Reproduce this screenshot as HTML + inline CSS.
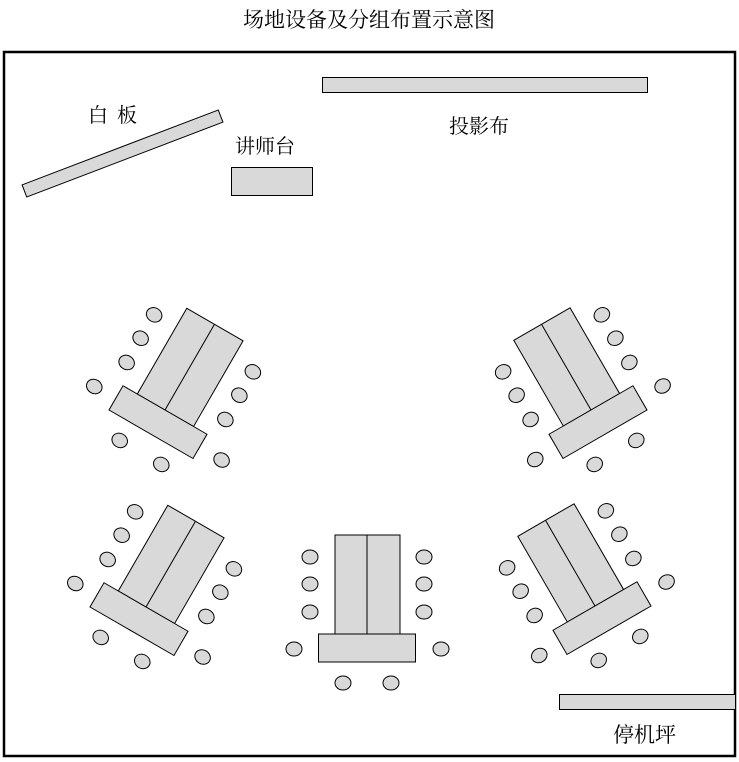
<!DOCTYPE html>
<html><head><meta charset="utf-8"><style>
html,body{margin:0;padding:0;background:#fff;}
svg{display:block;}
text{font-family:"Liberation Serif","Noto Serif CJK SC",serif;fill:#000;}
</style></head><body>
<svg width="739" height="762" viewBox="0 0 739 762" xmlns="http://www.w3.org/2000/svg">
<defs>
<g id="grp" stroke="#000" stroke-width="1" fill="#d9d9d9">
  <rect x="-32" y="-99" width="65" height="99"/>
  <line x1="0" y1="-99" x2="0" y2="0"/>
  <rect x="-48.5" y="0" width="97" height="28"/>
  <ellipse cx="-57" cy="-77" rx="8" ry="7"/>
  <ellipse cx="-57" cy="-50" rx="8" ry="7"/>
  <ellipse cx="-57" cy="-22" rx="8" ry="7"/>
  <ellipse cx="57" cy="-77" rx="8" ry="7"/>
  <ellipse cx="57" cy="-50" rx="8" ry="7"/>
  <ellipse cx="57" cy="-22" rx="8" ry="7"/>
  <ellipse cx="-73" cy="15" rx="8" ry="7"/>
  <ellipse cx="74" cy="15" rx="8" ry="7"/>
  <ellipse cx="-24" cy="49" rx="8" ry="7"/>
  <ellipse cx="24" cy="49" rx="8" ry="7"/>
</g>
</defs>
<text x="369" y="27" font-size="21" text-anchor="middle">场地设备及分组布置示意图</text>
<rect x="4" y="52" width="731" height="704" fill="none" stroke="#000" stroke-width="2.5"/>
<rect x="322.5" y="77.5" width="325" height="15" fill="#d9d9d9" stroke="#000"/>
<rect x="-105" y="-6.5" width="210" height="13" fill="#d9d9d9" stroke="#000" transform="translate(122.5,153.5) rotate(-20.9)"/>
<rect x="231.5" y="167.5" width="81" height="28" fill="#d9d9d9" stroke="#000"/>
<rect x="559.5" y="694.5" width="176" height="15" fill="#d9d9d9" stroke="#000"/>
<text x="88" y="122" font-size="20">白</text>
<text x="117" y="122" font-size="20">板</text>
<text x="235" y="153" font-size="20">讲师台</text>
<text x="449" y="133" font-size="20">投影布</text>
<text x="613" y="742" font-size="21">停机坪</text>
<use href="#grp" transform="translate(165,410) rotate(30)"/>
<use href="#grp" transform="translate(146,607) rotate(30)"/>
<use href="#grp" transform="translate(591,410) rotate(-30)"/>
<use href="#grp" transform="translate(595,606) rotate(-30)"/>
<use href="#grp" transform="translate(367,634)"/>
</svg>
</body></html>
